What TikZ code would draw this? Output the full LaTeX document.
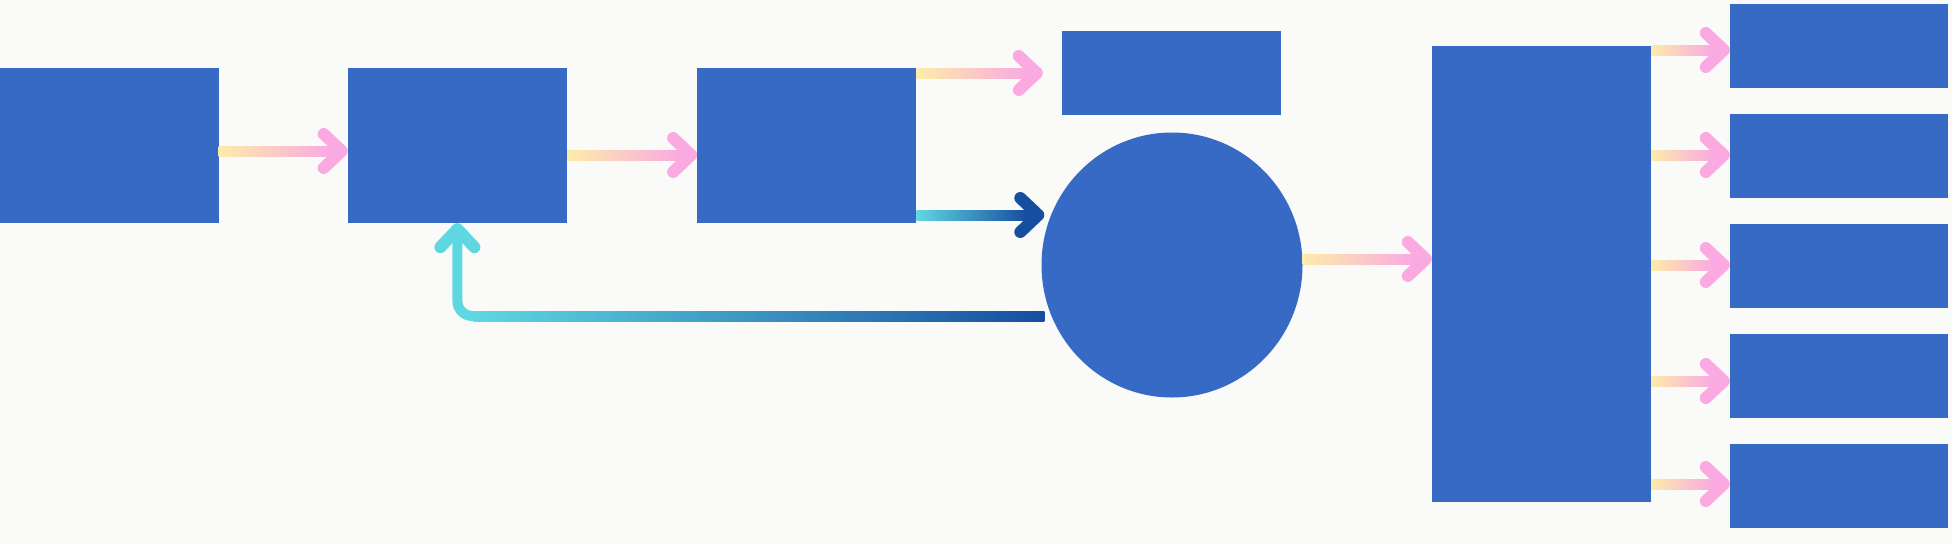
\documentclass[tikz,border=0pt]{standalone}
\usetikzlibrary{positioning,shapes.geometric,arrows.meta,calc}
\definecolor{boxblue}{RGB}{54,106,196}
\definecolor{paper}{RGB}{250,250,248}
\definecolor{flowyellow}{RGB}{252,236,170}
\definecolor{flowpink}{RGB}{250,170,225}
\definecolor{loopcyan}{RGB}{95,215,225}
\definecolor{loopblue}{RGB}{22,78,160}
% shaded shaft between a start point and an end point (stops short of the head)
\newcommand{\shaft}[4]{\shade[left color=#3,right color=#4] ($(#1)+(0,5)$) rectangle ($(#2)+(-18,-5)$);}
\begin{document}
\begin{tikzpicture}
[x=1pt,y=1pt,
block/.style={rectangle,fill=boxblue,inner sep=0pt,minimum width=219pt,minimum height=155pt},
small block/.style={block,minimum height=84pt},
flow/.style={line width=10pt,draw=flowpink,-{Straight Barb[length=18pt,width=34pt,line width=0pt 1.2,round]}},
loop/.style={flow,draw=loopblue},
node distance=129pt]
\fill[paper] (0,0) rectangle (1952,-544);
\useasboundingbox (0,0) rectangle (1952,-544);
\node[block] (A) at (109,-145.5) {};
\node[block] (B) [right=of A] {};
\node[block] (C) [right=130pt of B] {};
\node[small block] (D) at (1171.5,-73) {};
\node[ellipse,fill=boxblue,inner sep=0pt,minimum width=261pt,minimum height=265pt] (O) at (1172,-265) {};
\node[block,minimum height=456pt] (E) at (1541.5,-274) {};
\node[small block,minimum width=218pt] (R1) at (1839,-46) {};
\foreach \i [count=\j from 1] in {2,...,5}
  \node[small block,minimum width=218pt,below=25.6pt of R\j] (R\i) {};
% connectors
\coordinate (ab1) at ([yshift=-5.5]A.east);
\coordinate (ab2) at (B.west |- ab1);
\coordinate (bc1) at ([yshift=-9.5]B.east);
\coordinate (bc2) at (C.west |- bc1);
\coordinate (cd1) at (C.east |- D.west);
\coordinate (cd2) at ([xshift=-19]D.west);
\coordinate (co1) at ([yshift=-69.5]C.east);
\coordinate (co2) at ([xshift=3]O.west |- co1);
\coordinate (oe1) at ([yshift=6]O.east);
\coordinate (oe2) at (E.west |- oe1);
\coordinate (ob) at ([xshift=3,yshift=-51]O.west);
\draw[flow] (ab1) -- (ab2);
\shaft{ab1}{ab2}{flowyellow}{flowpink}
\draw[flow] (bc1) -- (bc2);
\shaft{bc1}{bc2}{flowyellow}{flowpink}
\draw[flow] (cd1) -- (cd2);
\shaft{cd1}{cd2}{flowyellow}{flowpink}
\draw[loop] (co1) -- (co2);
\shaft{co1}{co2}{loopcyan}{loopblue}
\draw[flow] (oe1) -- (oe2);
\shaft{oe1}{oe2}{flowyellow}{flowpink}
\foreach \i/\s in {1/-4,2/1,3/1,4/-5,5/2} {
  \coordinate (er\i) at ([yshift=\s]R\i.west);
  \draw[flow] (E.east |- er\i) -- (er\i);
  \shaft{E.east |- er\i}{er\i}{flowyellow}{flowpink}
}
% feedback loop
\draw[flow,draw=loopcyan,rounded corners=15pt] (ob) -| (B.south);
\shade[left color=loopcyan,right color=loopblue] ($(B.south |- ob)+(16,5)$) rectangle ($(ob)+(0,-5)$);
\end{tikzpicture}
\end{document}
